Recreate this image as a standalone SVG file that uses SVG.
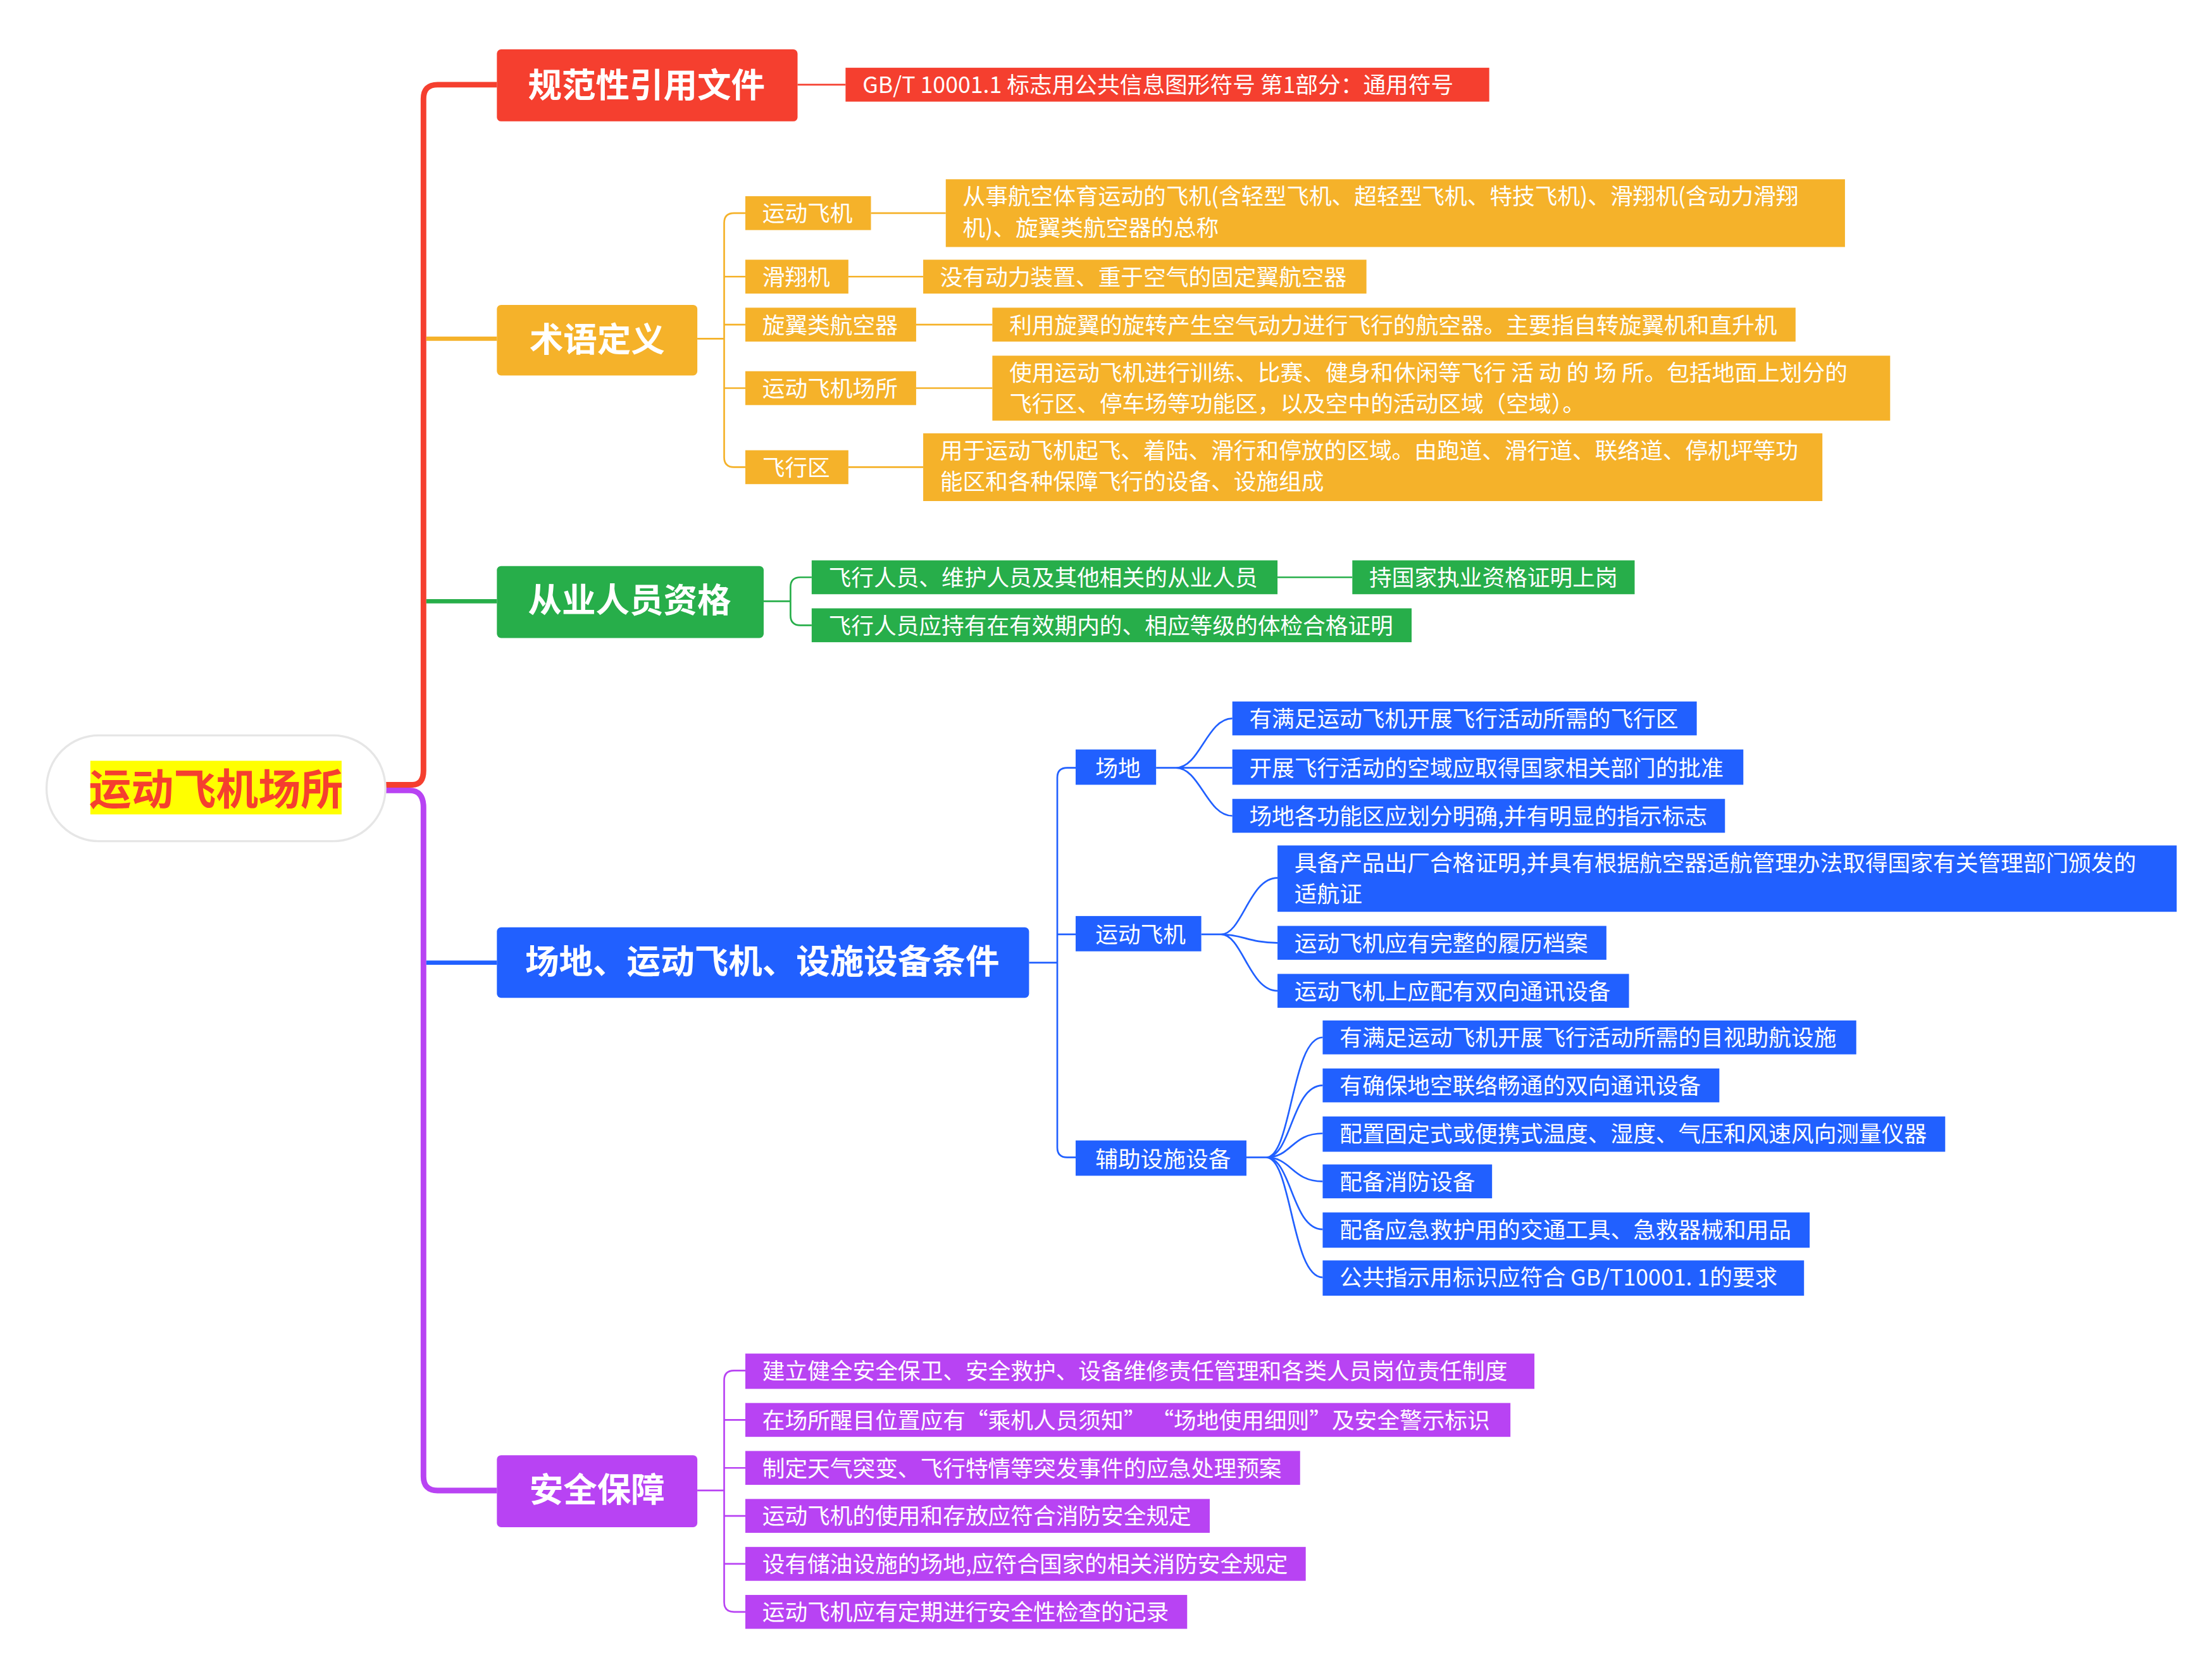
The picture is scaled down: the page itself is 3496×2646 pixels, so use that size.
<svg xmlns="http://www.w3.org/2000/svg" width="3496" height="2646" viewBox="0 0 3496 2646">
<style>
text{font-family:"Noto Sans CJK SC","Liberation Sans",sans-serif;fill:#fff}
.t{font-size:16px}
.h{font-size:24px;font-weight:bold;text-anchor:middle}
.r{fill:#F53F2F}.o{fill:#F5B22A}.g{fill:#27AE4A}.b{fill:#2160FF}.p{fill:#B843F3}
.c{fill:none;stroke-width:1.2}
</style>
<rect width="3496" height="2646" fill="#fff"/>
<g transform="scale(2.231)">
<g id="connectors">
<path d="M273,556 H292 Q300,556 300,546 V70 Q300,60 310,60 H352" fill="none" stroke="#F53F2F" stroke-width="4"/>
<path d="M273,560 H290 Q300,560 300,572 V1046 Q300,1056 310,1056 H352" fill="none" stroke="#B843F3" stroke-width="4"/>
<path d="M302,240 H352" stroke="#F5B22A" stroke-width="3"/>
<path d="M302,426 H352" stroke="#27AE4A" stroke-width="3"/>
<path d="M302,682 H352" stroke="#2160FF" stroke-width="3"/>
<path class="c" stroke="#F53F2F" d="M565,60 H599"/>
<g class="c" stroke="#F5B22A">
<path d="M494,240 H513 M528,151 H520 Q513,151 513,158 V324 Q513,331 520,331 H528 M513,196 Q513,196 528,196 M513,230 H528 M513,275 H528"/>
<path d="M617,151 H670 M601,196 H654 M649,230 H703 M649,275 H703 M601,331 H654"/>
</g>
<g class="c" stroke="#27AE4A">
<path d="M541,426 H560 M575,409 H567 Q560,409 560,416 V436 Q560,443 567,443 H575 M905,409 H958"/>
</g>
<g class="c" stroke="#2160FF">
<path d="M729,682 H749 M762,544 H756 Q749,544 749,551 V813 Q749,820 756,820 H762 M749,662 H762"/>
<path d="M819,544 H833 C850,544 855,509 873,509 M833,544 H873 M833,544 C850,544 855,578 873,578"/>
<path d="M851,662 H865 C880,662 885,622 905,622 M865,662 C880,662 885,668 905,668 M865,662 C880,662 885,702 905,702"/>
<path d="M883,820 H897 C915,820 915,735 937,735 M897,820 C915,820 915,769 937,769 M897,820 C915,820 915,803 937,803 M897,820 C915,820 915,837 937,837 M897,820 C915,820 915,871 937,871 M897,820 C915,820 915,905 937,905"/>
</g>
<g class="c" stroke="#B843F3">
<path d="M494,1056 H513 M528,971 H520 Q513,971 513,978 V1135 Q513,1142 520,1142 H528 M513,1006 H528 M513,1040 H528 M513,1074 H528 M513,1108 H528"/>
</g>
</g>
<g id="root">
<rect x="33" y="521" width="240" height="75" rx="37" fill="#fff" stroke="#e6e6e6" stroke-width="1.5"/>
<rect x="64" y="539" width="178" height="38" fill="#FFFF00"/>
<text x="153" y="570" style="font-size:30px;font-weight:bold;text-anchor:middle;fill:#F53F2F">运动飞机场所</text>
</g>
<g id="n1"><rect class="r" x="352" y="35" width="213" height="51" rx="3"/><text class="h" x="458" y="69">规范性引用文件</text></g>
<g id="n1a"><rect class="r" x="599" y="48" width="456" height="24"/><text class="t" x="611" y="66">GB/T 10001.1 标志用公共信息图形符号 第1部分：通用符号</text></g>
<g id="n2"><rect class="o" x="352" y="216" width="142" height="50" rx="3"/><text class="h" x="423" y="249">术语定义</text></g>
<g id="n2a"><rect class="o" x="528" y="139" width="89" height="24"/><text class="t" x="540" y="157">运动飞机</text></g>
<g id="n2a1"><rect class="o" x="670" y="127" width="637" height="48"/><text class="t" x="682" y="145">从事航空体育运动的飞机(含轻型飞机、超轻型飞机、特技飞机)、滑翔机(含动力滑翔</text><text class="t" x="682" y="167">机)、旋翼类航空器的总称</text></g>
<g id="n2b"><rect class="o" x="528" y="184" width="73" height="24"/><text class="t" x="540" y="202">滑翔机</text></g>
<g id="n2b1"><rect class="o" x="654" y="184" width="314" height="24"/><text class="t" x="666" y="202">没有动力装置、重于空气的固定翼航空器</text></g>
<g id="n2c"><rect class="o" x="528" y="218" width="121" height="24"/><text class="t" x="540" y="236">旋翼类航空器</text></g>
<g id="n2c1"><rect class="o" x="703" y="218" width="569" height="24"/><text class="t" x="715" y="236">利用旋翼的旋转产生空气动力进行飞行的航空器。主要指自转旋翼机和直升机</text></g>
<g id="n2d"><rect class="o" x="528" y="263" width="121" height="24"/><text class="t" x="540" y="281">运动飞机场所</text></g>
<g id="n2d1"><rect class="o" x="703" y="252" width="636" height="46"/><text class="t" x="715" y="270">使用运动飞机进行训练、比赛、健身和休闲等飞行 活 动 的 场 所。包括地面上划分的</text><text class="t" x="715" y="292">飞行区、停车场等功能区，以及空中的活动区域（空域）。</text></g>
<g id="n2e"><rect class="o" x="528" y="319" width="73" height="24"/><text class="t" x="540" y="337">飞行区</text></g>
<g id="n2e1"><rect class="o" x="654" y="307" width="637" height="48"/><text class="t" x="666" y="325">用于运动飞机起飞、着陆、滑行和停放的区域。由跑道、滑行道、联络道、停机坪等功</text><text class="t" x="666" y="347">能区和各种保障飞行的设备、设施组成</text></g>
<g id="n3"><rect class="g" x="352" y="401" width="189" height="51" rx="3"/><text class="h" x="446" y="434">从业人员资格</text></g>
<g id="n3a"><rect class="g" x="575" y="397" width="330" height="24"/><text class="t" x="587" y="415">飞行人员、维护人员及其他相关的从业人员</text></g>
<g id="n3a1"><rect class="g" x="958" y="397" width="200" height="24"/><text class="t" x="970" y="415">持国家执业资格证明上岗</text></g>
<g id="n3b"><rect class="g" x="575" y="431" width="425" height="24"/><text class="t" x="587" y="449">飞行人员应持有在有效期内的、相应等级的体检合格证明</text></g>
<g id="n4"><rect class="b" x="352" y="657" width="377" height="50" rx="3"/><text class="h" x="540" y="690">场地、运动飞机、设施设备条件</text></g>
<g id="n4a"><rect class="b" x="762" y="531" width="57" height="25"/><text class="t" x="776" y="550">场地</text></g>
<g id="n4a1"><rect class="b" x="873" y="497" width="329" height="24"/><text class="t" x="885" y="515">有满足运动飞机开展飞行活动所需的飞行区</text></g>
<g id="n4a2"><rect class="b" x="873" y="531" width="362" height="25"/><text class="t" x="885" y="550">开展飞行活动的空域应取得国家相关部门的批准</text></g>
<g id="n4a3"><rect class="b" x="873" y="566" width="349" height="24"/><text class="t" x="885" y="584">场地各功能区应划分明确,并有明显的指示标志</text></g>
<g id="n4b"><rect class="b" x="762" y="649" width="89" height="25"/><text class="t" x="776" y="668">运动飞机</text></g>
<g id="n4b1"><rect class="b" x="905" y="599" width="637" height="47"/><text class="t" x="917" y="617">具备产品出厂合格证明,并具有根据航空器适航管理办法取得国家有关管理部门颁发的</text><text class="t" x="917" y="639">适航证</text></g>
<g id="n4b2"><rect class="b" x="905" y="656" width="233" height="24"/><text class="t" x="917" y="674">运动飞机应有完整的履历档案</text></g>
<g id="n4b3"><rect class="b" x="905" y="690" width="249" height="24"/><text class="t" x="917" y="708">运动飞机上应配有双向通讯设备</text></g>
<g id="n4c"><rect class="b" x="762" y="808" width="121" height="25"/><text class="t" x="776" y="827">辅助设施设备</text></g>
<g id="n4c1"><rect class="b" x="937" y="723" width="378" height="24"/><text class="t" x="949" y="741">有满足运动飞机开展飞行活动所需的目视助航设施</text></g>
<g id="n4c2"><rect class="b" x="937" y="757" width="281" height="24"/><text class="t" x="949" y="775">有确保地空联络畅通的双向通讯设备</text></g>
<g id="n4c3"><rect class="b" x="937" y="791" width="441" height="25"/><text class="t" x="949" y="809">配置固定式或便携式温度、湿度、气压和风速风向测量仪器</text></g>
<g id="n4c4"><rect class="b" x="937" y="825" width="120" height="24"/><text class="t" x="949" y="843">配备消防设备</text></g>
<g id="n4c5"><rect class="b" x="937" y="859" width="345" height="25"/><text class="t" x="949" y="877">配备应急救护用的交通工具、急救器械和用品</text></g>
<g id="n4c6"><rect class="b" x="937" y="893" width="341" height="25"/><text class="t" x="949" y="911">公共指示用标识应符合 GB/T10001. 1的要求</text></g>
<g id="n5"><rect class="p" x="352" y="1031" width="142" height="51" rx="3"/><text class="h" x="423" y="1064">安全保障</text></g>
<g id="n5a"><rect class="p" x="528" y="959" width="559" height="25"/><text class="t" x="540" y="977">建立健全安全保卫、安全救护、设备维修责任管理和各类人员岗位责任制度</text></g>
<g id="n5b"><rect class="p" x="528" y="994" width="542" height="24"/><text class="t" x="540" y="1012">在场所醒目位置应有“乘机人员须知” “场地使用细则”及安全警示标识</text></g>
<g id="n5c"><rect class="p" x="528" y="1028" width="393" height="24"/><text class="t" x="540" y="1046">制定天气突变、飞行特情等突发事件的应急处理预案</text></g>
<g id="n5d"><rect class="p" x="528" y="1062" width="329" height="24"/><text class="t" x="540" y="1080">运动飞机的使用和存放应符合消防安全规定</text></g>
<g id="n5e"><rect class="p" x="528" y="1096" width="397" height="24"/><text class="t" x="540" y="1114">设有储油设施的场地,应符合国家的相关消防安全规定</text></g>
<g id="n5f"><rect class="p" x="528" y="1130" width="313" height="24"/><text class="t" x="540" y="1148">运动飞机应有定期进行安全性检查的记录</text></g>
</g>
</svg>
